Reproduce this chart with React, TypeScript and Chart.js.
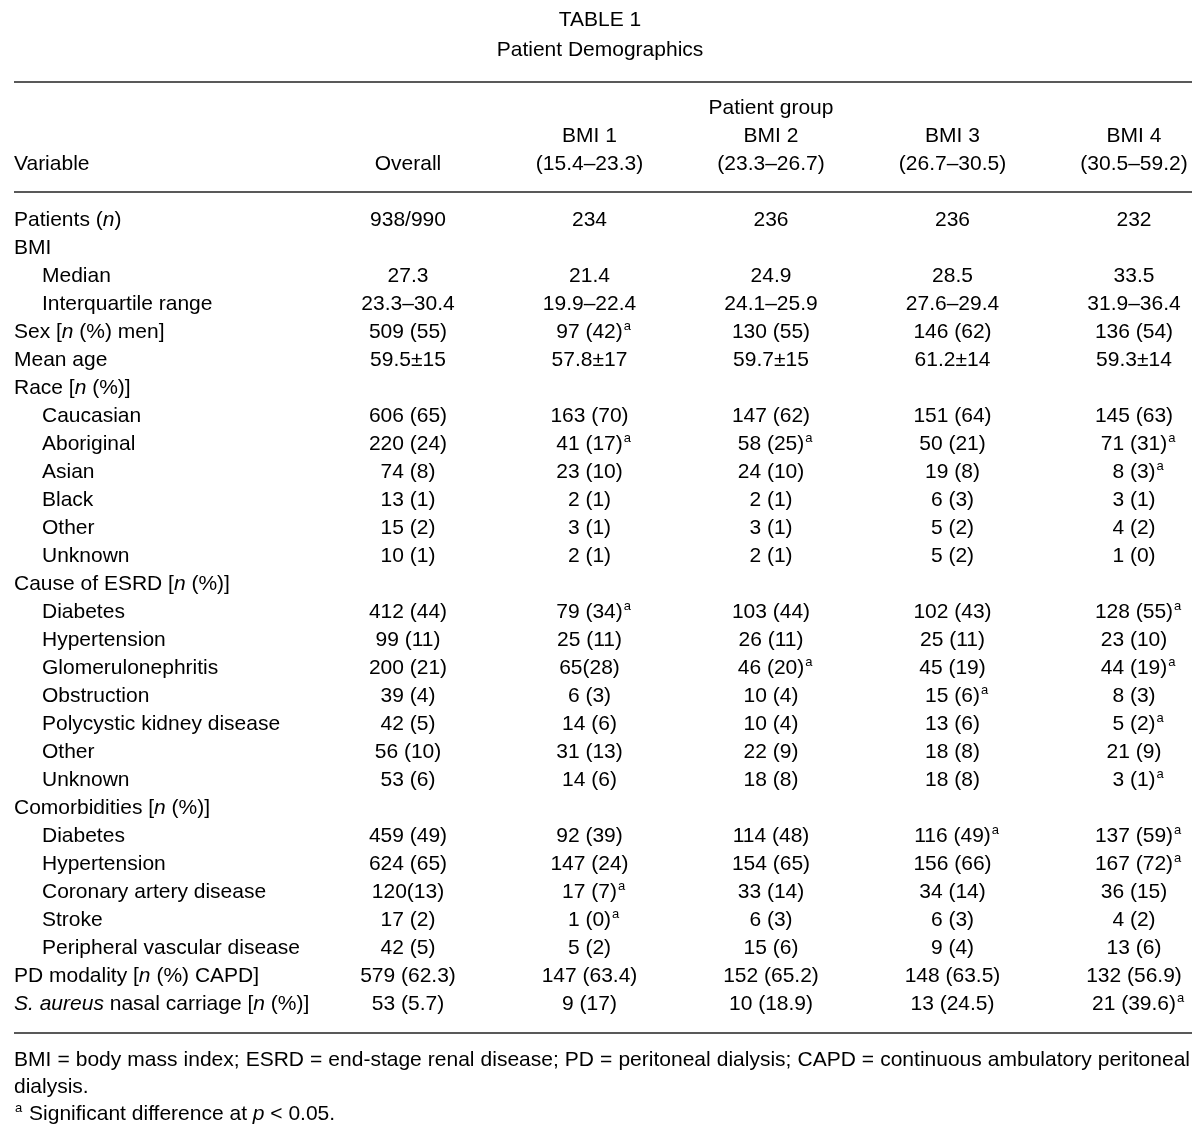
import React, { useEffect, useRef } from "react";
import { Chart, registerables } from "chart.js";

Chart.register(...registerables);

// ---------- data ----------
const TITLE_LINES = ["TABLE 1", "Patient Demographics"];
const GROUP_HEADER = "Patient group";
const VARIABLE_HEADER = "Variable";
const COLUMN_NAMES = ["Overall", "BMI 1", "BMI 2", "BMI 3", "BMI 4"];
const COLUMN_RANGES = ["", "(15.4–23.3)", "(23.3–26.7)", "(26.7–30.5)", "(30.5–59.2)"];

// markup: *italic*, ^a = superscript a
const ROW_LABELS = [
  "Patients (*n*)",
  "BMI",
  "Median",
  "Interquartile range",
  "Sex [*n* (%) men]",
  "Mean age",
  "Race [*n* (%)]",
  "Caucasian",
  "Aboriginal",
  "Asian",
  "Black",
  "Other",
  "Unknown",
  "Cause of ESRD [*n* (%)]",
  "Diabetes",
  "Hypertension",
  "Glomerulonephritis",
  "Obstruction",
  "Polycystic kidney disease",
  "Other",
  "Unknown",
  "Comorbidities [*n* (%)]",
  "Diabetes",
  "Hypertension",
  "Coronary artery disease",
  "Stroke",
  "Peripheral vascular disease",
  "PD modality [*n* (%) CAPD]",
  "*S. aureus* nasal carriage [*n* (%)]",
];
const ROW_INDENT = [0, 0, 1, 1, 0, 0, 0, 1, 1, 1, 1, 1, 1, 0, 1, 1, 1, 1, 1, 1, 1, 0, 1, 1, 1, 1, 1, 0, 0];

const OVERALL = [
  "938/990", "", "27.3", "23.3–30.4", "509 (55)", "59.5±15", "",
  "606 (65)", "220 (24)", "74 (8)", "13 (1)", "15 (2)", "10 (1)", "",
  "412 (44)", "99 (11)", "200 (21)", "39 (4)", "42 (5)", "56 (10)", "53 (6)", "",
  "459 (49)", "624 (65)", "120(13)", "17 (2)", "42 (5)", "579 (62.3)", "53 (5.7)",
];
const BMI1 = [
  "234", "", "21.4", "19.9–22.4", "97 (42)^a", "57.8±17", "",
  "163 (70)", "41 (17)^a", "23 (10)", "2 (1)", "3 (1)", "2 (1)", "",
  "79 (34)^a", "25 (11)", "65(28)", "6 (3)", "14 (6)", "31 (13)", "14 (6)", "",
  "92 (39)", "147 (24)", "17 (7)^a", "1 (0)^a", "5 (2)", "147 (63.4)", "9 (17)",
];
const BMI2 = [
  "236", "", "24.9", "24.1–25.9", "130 (55)", "59.7±15", "",
  "147 (62)", "58 (25)^a", "24 (10)", "2 (1)", "3 (1)", "2 (1)", "",
  "103 (44)", "26 (11)", "46 (20)^a", "10 (4)", "10 (4)", "22 (9)", "18 (8)", "",
  "114 (48)", "154 (65)", "33 (14)", "6 (3)", "15 (6)", "152 (65.2)", "10 (18.9)",
];
const BMI3 = [
  "236", "", "28.5", "27.6–29.4", "146 (62)", "61.2±14", "",
  "151 (64)", "50 (21)", "19 (8)", "6 (3)", "5 (2)", "5 (2)", "",
  "102 (43)", "25 (11)", "45 (19)", "15 (6)^a", "13 (6)", "18 (8)", "18 (8)", "",
  "116 (49)^a", "156 (66)", "34 (14)", "6 (3)", "9 (4)", "148 (63.5)", "13 (24.5)",
];
const BMI4 = [
  "232", "", "33.5", "31.9–36.4", "136 (54)", "59.3±14", "",
  "145 (63)", "71 (31)^a", "8 (3)^a", "3 (1)", "4 (2)", "1 (0)", "",
  "128 (55)^a", "23 (10)", "44 (19)^a", "8 (3)", "5 (2)^a", "21 (9)", "3 (1)^a", "",
  "137 (59)^a", "167 (72)^a", "36 (15)", "4 (2)", "13 (6)", "132 (56.9)", "21 (39.6)^a",
];
const COLUMNS = [OVERALL, BMI1, BMI2, BMI3, BMI4];

const FOOTNOTES = [
  "BMI = body mass index; ESRD = end-stage renal disease; PD = peritoneal dialysis; CAPD = continuous ambulatory peritoneal",
  "dialysis.",
  "^a Significant difference at *p* < 0.05.",
];

// ---------- styling ----------
const FAMILY = '"Liberation Sans", Arial, sans-serif';
const FONT_SIZE = 21;
const SUP_SIZE = 13;
const TEXT_COLOR = "#000000";
const RULE_COLOR = "#595959";

type Seg = { text: string; italic: boolean; sup: boolean };

function parse(s: string): Seg[] {
  const segs: Seg[] = [];
  let italic = false;
  let buf = "";
  const flush = () => {
    if (buf) segs.push({ text: buf, italic, sup: false });
    buf = "";
  };
  for (let i = 0; i < s.length; i++) {
    const ch = s[i];
    if (ch === "*") {
      flush();
      italic = !italic;
    } else if (ch === "^") {
      flush();
      segs.push({ text: s[i + 1], italic: false, sup: true });
      i++;
    } else buf += ch;
  }
  flush();
  return segs;
}

function fontFor(seg: Seg) {
  return `${seg.italic ? "italic " : ""}${seg.sup ? SUP_SIZE : FONT_SIZE}px ${FAMILY}`;
}

function measure(ctx: CanvasRenderingContext2D, segs: Seg[], skipSup: boolean) {
  let w = 0;
  for (const s of segs) {
    if (skipSup && s.sup) continue;
    ctx.font = fontFor(s);
    w += ctx.measureText(s.text).width + (s.sup ? 1 : 0);
  }
  return w;
}

function drawRich(
  ctx: CanvasRenderingContext2D,
  str: string,
  x: number,
  y: number,
  align: "left" | "center"
) {
  const segs = parse(str);
  let cx = x;
  if (align === "center") cx = x - measure(ctx, segs, true) / 2;
  ctx.textAlign = "left";
  ctx.textBaseline = "middle";
  ctx.fillStyle = TEXT_COLOR;
  for (const s of segs) {
    ctx.font = fontFor(s);
    if (s.sup) {
      ctx.fillText(s.text, cx + 1, y - 6);
      cx += ctx.measureText(s.text).width + 2;
    } else {
      ctx.fillText(s.text, cx, y);
      cx += ctx.measureText(s.text).width;
    }
  }
}

function drawJustified(ctx: CanvasRenderingContext2D, str: string, x0: number, x1: number, y: number) {
  const words = str.split(" ");
  ctx.font = `${FONT_SIZE}px ${FAMILY}`;
  const widths = words.map((w) => ctx.measureText(w).width);
  const total = widths.reduce((a, b) => a + b, 0);
  const gap = (x1 - x0 - total) / (words.length - 1);
  let cx = x0;
  ctx.textAlign = "left";
  ctx.textBaseline = "middle";
  ctx.fillStyle = TEXT_COLOR;
  words.forEach((w, i) => {
    ctx.fillText(w, cx, y);
    cx += widths[i] + gap;
  });
}

const LEFT_X = 14;
const INDENT_X = 42;
const RIGHT_X = 1192;

const tablePlugin = {
  id: "tableText",
  afterDraw(chart: any) {
    const ctx: CanvasRenderingContext2D = chart.ctx;
    const xs = chart.scales.x;
    const ys = chart.scales.y;
    ctx.save();

    // title
    drawRich(ctx, TITLE_LINES[0], 600, ys.getPixelForValue(-7.14), "center");
    drawRich(ctx, TITLE_LINES[1], 600, ys.getPixelForValue(-6.07), "center");

    // rules
    ctx.strokeStyle = RULE_COLOR;
    ctx.lineWidth = 2;
    for (const v of [-4.93, -1.0, 29.04]) {
      const y = Math.round(ys.getPixelForValue(v));
      ctx.beginPath();
      ctx.moveTo(LEFT_X, y);
      ctx.lineTo(RIGHT_X, y);
      ctx.stroke();
    }

    // header
    drawRich(ctx, GROUP_HEADER, xs.getPixelForValue(2), ys.getPixelForValue(-4), "center");
    drawRich(ctx, VARIABLE_HEADER, LEFT_X, ys.getPixelForValue(-2), "left");
    COLUMN_NAMES.forEach((name, c) => {
      const x = xs.getPixelForValue(c);
      if (COLUMN_RANGES[c]) {
        drawRich(ctx, name, x, ys.getPixelForValue(-3), "center");
        drawRich(ctx, COLUMN_RANGES[c], x, ys.getPixelForValue(-2), "center");
      } else {
        drawRich(ctx, name, x, ys.getPixelForValue(-2), "center");
      }
    });

    // row labels
    ROW_LABELS.forEach((lab, r) => {
      drawRich(ctx, lab, ROW_INDENT[r] ? INDENT_X : LEFT_X, ys.getPixelForValue(r), "left");
    });

    // cells from dataset elements
    chart.data.datasets.forEach((ds: any, di: number) => {
      const meta = chart.getDatasetMeta(di);
      meta.data.forEach((el: any, j: number) => {
        const raw = ds.data[j];
        drawRich(ctx, raw.label, el.x, el.y, "center");
      });
    });

    // footnotes
    drawJustified(ctx, FOOTNOTES[0], LEFT_X, RIGHT_X - 2, ys.getPixelForValue(30.0));
    drawRich(ctx, FOOTNOTES[1], LEFT_X, ys.getPixelForValue(30.96), "left");
    drawRich(ctx, FOOTNOTES[2], LEFT_X, ys.getPixelForValue(31.93), "left");

    ctx.restore();
  },
};

export default function App() {
  const ref = useRef<HTMLCanvasElement | null>(null);

  useEffect(() => {
    document.body.style.margin = "0";
    const canvas = ref.current;
    if (!canvas) return;
    const datasets = COLUMNS.map((col, c) => ({
      label: COLUMN_NAMES[c],
      data: col
        .map((v, r) => ({ x: c, y: r, label: v }))
        .filter((p) => p.label !== ""),
      pointRadius: 0,
      pointHoverRadius: 0,
      showLine: false,
    }));
    const chart = new Chart(canvas, {
      type: "scatter",
      data: { datasets },
      options: {
        animation: false,
        responsive: false,
        maintainAspectRatio: false,
        events: [],
        layout: { padding: { left: 408, right: 66, top: 220, bottom: 136 } },
        scales: {
          x: { type: "linear", min: 0, max: 4, display: false },
          y: { type: "linear", min: 0, max: 28, reverse: true, display: false },
        },
        plugins: {
          legend: { display: false },
          tooltip: { enabled: false },
          title: { display: false },
        },
      },
      plugins: [tablePlugin],
    } as any);
    return () => chart.destroy();
  }, []);

  return (
    <div style={{ width: 1200, height: 1140, background: "#fff" }}>
      <canvas ref={ref} width={1200} height={1140} style={{ display: "block" }} />
    </div>
  );
}
